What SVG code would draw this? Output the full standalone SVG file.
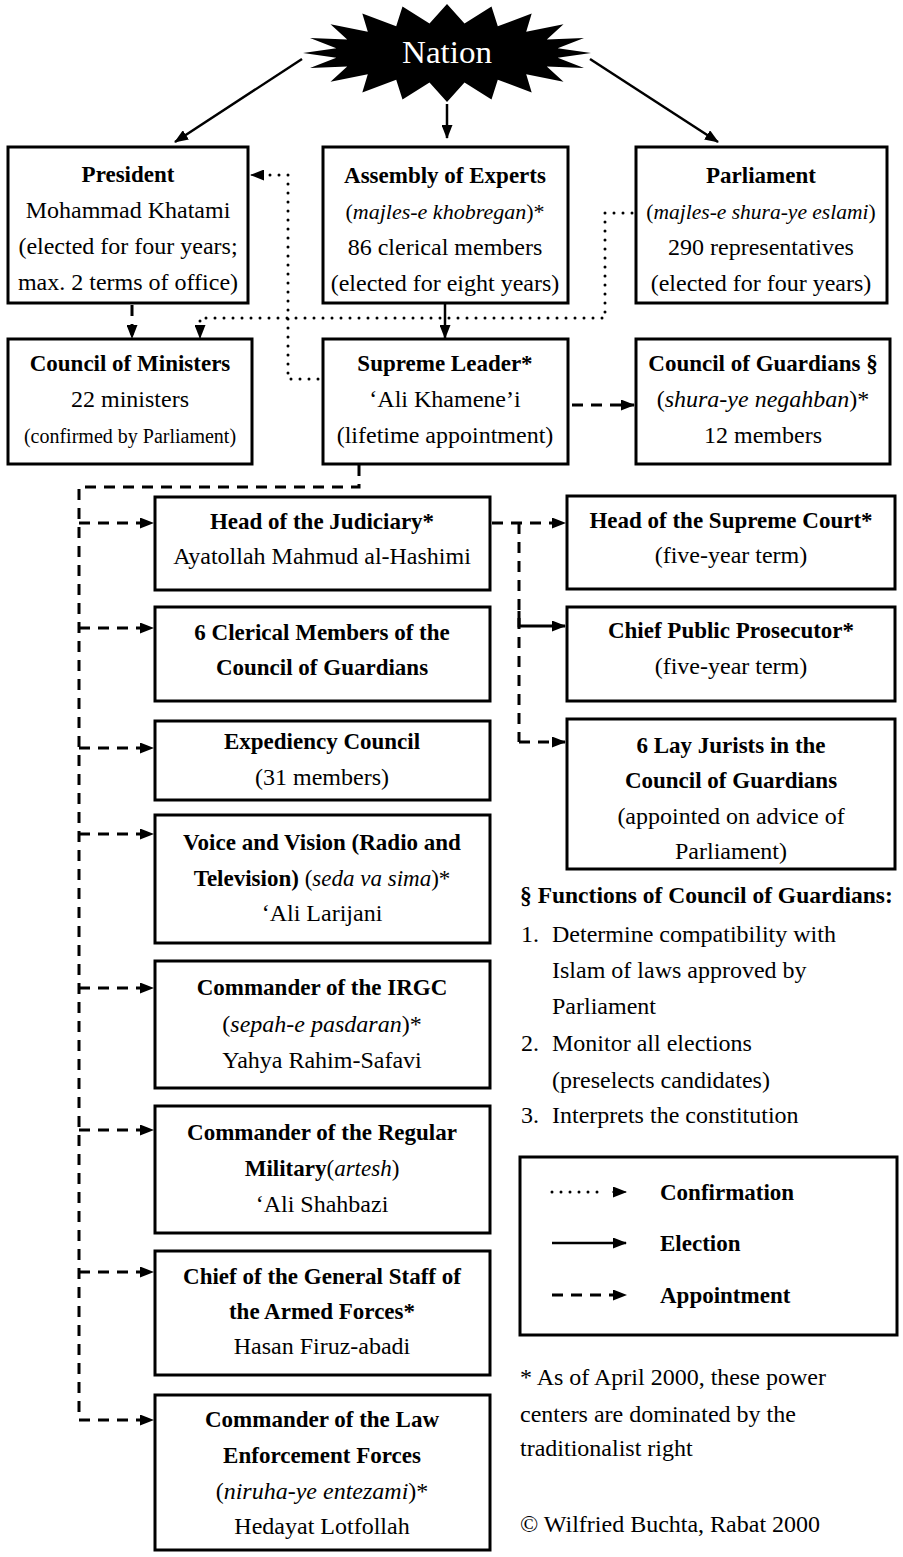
<svg xmlns="http://www.w3.org/2000/svg" width="903" height="1557" viewBox="0 0 903 1557">
<defs>
<style>
.box{fill:#fff;stroke:#000;stroke-width:3}
text{font-family:"Liberation Serif","Times New Roman",serif;fill:#000;text-anchor:middle}
.t{font-weight:bold;font-size:23px}
.r{font-size:24px}
.s{font-size:20px}
.i{font-style:italic}
.ln{fill:none;stroke:#000;stroke-width:2.5}
.dash{fill:none;stroke:#000;stroke-width:3;stroke-dasharray:11 8}
.dot{fill:none;stroke:#000;stroke-width:3;stroke-dasharray:0 9;stroke-linecap:round}
.lft{text-anchor:start}
</style>
<marker id="ah" markerUnits="userSpaceOnUse" markerWidth="14" markerHeight="11" refX="13" refY="5.5" orient="auto">
<path d="M0,0 L14,5.5 L0,11 Z" fill="#000"/>
</marker>
</defs>
<rect width="903" height="1557" fill="#fff"/>

<g id="nation">
<polygon fill="#000" points="591,53 557.7,57.7 584,68.1 546.8,66.6 563.5,81.8 526.2,74.2 531.7,92.6 497.8,79.7 491.5,99.6 464.5,82.6 447,102 429.5,82.6 402.5,99.6 396.2,79.7 362.3,92.6 367.8,74.2 330.5,81.8 347.2,66.6 310,68.1 336.3,57.7 303,53 336.3,48.3 310,37.9 347.2,39.4 330.5,24.2 367.8,31.8 362.3,13.4 396.2,26.3 402.5,6.4 429.5,23.4 447,4 464.5,23.4 491.5,6.4 497.8,26.3 531.7,13.4 526.2,31.8 563.5,24.2 546.8,39.4 584,37.9 557.7,48.3"/>
<text x="447" y="63" textLength="90" lengthAdjust="spacingAndGlyphs" style="font-size:31px;fill:#fff">Nation</text>
</g>

<g id="connectors">
<line class="ln" x1="302" y1="59" x2="175" y2="142" marker-end="url(#ah)"/>
<line class="ln" x1="447" y1="104" x2="447" y2="138" marker-end="url(#ah)"/>
<line class="ln" x1="590" y1="59" x2="718" y2="142" marker-end="url(#ah)"/>
<line class="dash" x1="132" y1="305" x2="132" y2="338" marker-end="url(#ah)"/>
<line class="ln" x1="445" y1="304" x2="445" y2="338" marker-end="url(#ah)"/>
<path class="dot" d="M632,213 H605 V318 H200 V326"/>
<line class="ln" x1="200" y1="326" x2="200" y2="338" marker-end="url(#ah)" style="stroke-width:1"/>
<path class="dot" d="M318,379 H288 V175 H262"/>
<line x1="262" y1="175" x2="251" y2="175" stroke="#000" stroke-width="1" marker-end="url(#ah)"/>
<line class="dash" x1="572" y1="405" x2="634" y2="405" marker-end="url(#ah)"/>
<path class="dash" d="M359,465 V487 H79 V1420"/>
<line class="dash" x1="79" y1="523" x2="153" y2="523" marker-end="url(#ah)"/>
<line class="dash" x1="79" y1="628" x2="153" y2="628" marker-end="url(#ah)"/>
<line class="dash" x1="79" y1="748" x2="153" y2="748" marker-end="url(#ah)"/>
<line class="dash" x1="79" y1="834" x2="153" y2="834" marker-end="url(#ah)"/>
<line class="dash" x1="79" y1="988" x2="153" y2="988" marker-end="url(#ah)"/>
<line class="dash" x1="79" y1="1130" x2="153" y2="1130" marker-end="url(#ah)"/>
<line class="dash" x1="79" y1="1272" x2="153" y2="1272" marker-end="url(#ah)"/>
<line class="dash" x1="79" y1="1420" x2="153" y2="1420" marker-end="url(#ah)"/>
<line class="dash" x1="492" y1="523" x2="565" y2="523" marker-end="url(#ah)"/>
<path class="dash" d="M519,523 V742"/>
<path d="M519,611 V626 H565" fill="none" stroke="#000" stroke-width="3" marker-end="url(#ah)"/>
<line class="dash" x1="519" y1="742" x2="565" y2="742" marker-end="url(#ah)"/>
</g>

<g id="president">
<rect class="box" x="8" y="147" width="240" height="156"/>
<text class="t" x="128" y="182">President</text>
<text class="r" x="128" y="218">Mohammad Khatami</text>
<text class="r" x="128" y="254">(elected for four years;</text>
<text class="r" x="128" y="290">max. 2 terms of office)</text>
</g>
<g id="assembly">
<rect class="box" x="323" y="147" width="245" height="156"/>
<text class="t" x="445" y="183">Assembly of Experts</text>
<text x="445" y="219" style="font-size:22px">(<tspan class="i">majles-e khobregan</tspan>)*</text>
<text class="r" x="445" y="255">86 clerical members</text>
<text class="r" x="445" y="291">(elected for eight years)</text>
</g>
<g id="parliament">
<rect class="box" x="636" y="147" width="251" height="156"/>
<text class="t" x="761" y="183">Parliament</text>
<text x="761" y="219" style="font-size:21.5px">(<tspan class="i">majles-e shura-ye eslami</tspan>)</text>
<text class="r" x="761" y="255">290 representatives</text>
<text class="r" x="761" y="291">(elected for four years)</text>
</g>
<g id="ministers">
<rect class="box" x="8" y="339" width="244" height="125"/>
<text class="t" x="130" y="371">Council of Ministers</text>
<text class="r" x="130" y="407">22 ministers</text>
<text class="s" x="130" y="443">(confirmed by Parliament)</text>
</g>
<g id="leader">
<rect class="box" x="323" y="339" width="245" height="125"/>
<text class="t" x="445" y="371">Supreme Leader*</text>
<text class="r" x="445" y="407">‘Ali Khamene’i</text>
<text class="r" x="445" y="443">(lifetime appointment)</text>
</g>
<g id="guardians">
<rect class="box" x="636" y="339" width="254" height="125"/>
<text class="t" x="763" y="371">Council of Guardians §</text>
<text class="r" x="763" y="407">(<tspan class="i">shura-ye negahban</tspan>)*</text>
<text class="r" x="763" y="443">12 members</text>
</g>
<g id="judiciary">
<rect class="box" x="155" y="497" width="335" height="93"/>
<text class="t" x="322" y="529">Head of the Judiciary*</text>
<text class="r" x="322" y="564">Ayatollah Mahmud al-Hashimi</text>
</g>
<g id="supreme-court">
<rect class="box" x="567" y="496" width="328" height="93"/>
<text class="t" x="731" y="528">Head of the Supreme Court*</text>
<text class="r" x="731" y="563">(five-year term)</text>
</g>
<g id="clerical">
<rect class="box" x="155" y="607" width="335" height="94"/>
<text class="t" x="322" y="640">6 Clerical Members of the</text>
<text class="t" x="322" y="675">Council of Guardians</text>
</g>
<g id="prosecutor">
<rect class="box" x="567" y="607" width="328" height="94"/>
<text class="t" x="731" y="638">Chief Public Prosecutor*</text>
<text class="r" x="731" y="674">(five-year term)</text>
</g>
<g id="expediency">
<rect class="box" x="155" y="721" width="335" height="79"/>
<text class="t" x="322" y="749">Expediency Council</text>
<text class="r" x="322" y="785">(31 members)</text>
</g>
<g id="lay-jurists">
<rect class="box" x="567" y="719" width="328" height="150"/>
<text class="t" x="731" y="753">6 Lay Jurists in the</text>
<text class="t" x="731" y="788">Council of Guardians</text>
<text class="r" x="731" y="824">(appointed on advice of</text>
<text class="r" x="731" y="859">Parliament)</text>
</g>
<g id="voice">
<rect class="box" x="155" y="815" width="335" height="128"/>
<text class="t" x="322" y="850">Voice and Vision (Radio and</text>
<text class="t" x="322" y="886">Television) <tspan style="font-weight:normal">(</tspan><tspan class="i" style="font-weight:normal">seda va sima</tspan><tspan style="font-weight:normal">)*</tspan></text>
<text class="r" x="322" y="921">‘Ali Larijani</text>
</g>
<g id="irgc">
<rect class="box" x="155" y="961" width="335" height="127"/>
<text class="t" x="322" y="995">Commander of the IRGC</text>
<text class="r" x="322" y="1032">(<tspan class="i">sepah-e pasdaran</tspan>)*</text>
<text class="r" x="322" y="1068">Yahya Rahim-Safavi</text>
</g>
<g id="military">
<rect class="box" x="155" y="1106" width="335" height="127"/>
<text class="t" x="322" y="1140">Commander of the Regular</text>
<text class="t" x="322" y="1176">Military<tspan style="font-weight:normal">(</tspan><tspan class="i" style="font-weight:normal">artesh</tspan><tspan style="font-weight:normal">)</tspan></text>
<text class="r" x="322" y="1212">‘Ali Shahbazi</text>
</g>
<g id="general-staff">
<rect class="box" x="155" y="1251" width="335" height="124"/>
<text class="t" x="322" y="1284">Chief of the General Staff of</text>
<text class="t" x="322" y="1319">the Armed Forces*</text>
<text class="r" x="322" y="1354">Hasan Firuz-abadi</text>
</g>
<g id="law-enforcement">
<rect class="box" x="155" y="1395" width="335" height="155"/>
<text class="t" x="322" y="1427">Commander of the Law</text>
<text class="t" x="322" y="1463">Enforcement Forces</text>
<text class="r" x="322" y="1499">(<tspan class="i">niruha-ye entezami</tspan>)*</text>
<text class="r" x="322" y="1534">Hedayat Lotfollah</text>
</g>

<g id="functions">
<text class="lft" x="520" y="903" style="font-weight:bold;font-size:23.5px">§ Functions of Council of Guardians:</text>
<text class="lft r" x="521" y="942">1.</text>
<text class="lft r" x="552" y="942">Determine compatibility with</text>
<text class="lft r" x="552" y="978">Islam of laws approved by</text>
<text class="lft r" x="552" y="1014">Parliament</text>
<text class="lft r" x="521" y="1051">2.</text>
<text class="lft r" x="552" y="1051">Monitor all elections</text>
<text class="lft r" x="552" y="1088">(preselects candidates)</text>
<text class="lft r" x="521" y="1123">3.</text>
<text class="lft r" x="552" y="1123">Interprets the constitution</text>
</g>

<g id="legend">
<rect class="box" x="520" y="1157" width="377" height="178"/>
<line class="dot" x1="552" y1="1192" x2="606" y2="1192"/>
<line x1="612" y1="1192" x2="626" y2="1192" stroke="#000" stroke-width="1" marker-end="url(#ah)"/>
<text class="lft" x="660" y="1200" style="font-weight:bold;font-size:23px">Confirmation</text>
<line class="ln" x1="552" y1="1243" x2="626" y2="1243" marker-end="url(#ah)"/>
<text class="lft" x="660" y="1251" style="font-weight:bold;font-size:23px">Election</text>
<line class="dash" x1="552" y1="1295" x2="626" y2="1295" marker-end="url(#ah)"/>
<text class="lft" x="660" y="1303" style="font-weight:bold;font-size:23px">Appointment</text>
</g>

<g id="footnote">
<text class="lft r" x="520" y="1385">* As of April 2000, these power</text>
<text class="lft r" x="520" y="1422">centers are dominated by the</text>
<text class="lft r" x="520" y="1456">traditionalist right</text>
<text class="lft r" x="520" y="1532">© Wilfried Buchta, Rabat 2000</text>
</g>
</svg>
